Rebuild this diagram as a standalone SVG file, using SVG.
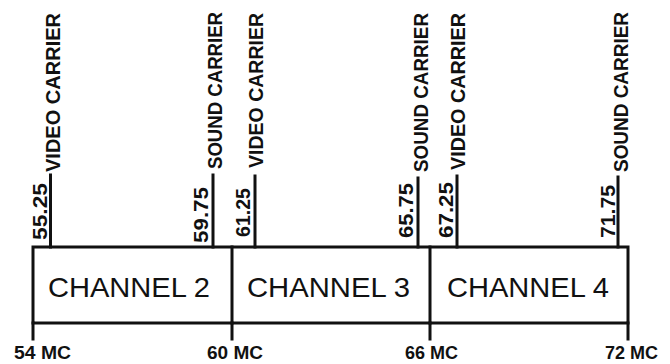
<svg xmlns="http://www.w3.org/2000/svg" width="670" height="364" viewBox="0 0 670 364">
<style>
.ln{stroke:#111;stroke-width:3;fill:none;stroke-linecap:square}
.car{font-family:"Liberation Sans",Arial,sans-serif;font-weight:bold;font-size:20px;fill:#111}
.ch{font-family:"Liberation Sans",Arial,sans-serif;font-size:28px;fill:#111}
.mc{font-family:"Liberation Sans",Arial,sans-serif;font-weight:bold;font-size:18px;fill:#111}
</style>
<rect width="670" height="364" fill="#fff"/>
<g id="connectors">
<path class="ln" d="M50.5,175V247M213,175V247M255,176V247M418,178V247M457,176V247M618,177V247"/>
<path class="ln" d="M33,323V339M232,323V339M430,323V339M628,323V339"/>
</g>
<g id="band">
<rect class="ln" x="33" y="247" width="595" height="76"/>
<path class="ln" d="M232,247V323M430,247V323"/>
</g>
<g id="channel2">
<text class="ch" x="48" y="297" textLength="162" lengthAdjust="spacingAndGlyphs">CHANNEL 2</text>
</g>
<g id="channel3">
<text class="ch" x="247" y="297" textLength="163" lengthAdjust="spacingAndGlyphs">CHANNEL 3</text>
</g>
<g id="channel4">
<text class="ch" x="447" y="297" textLength="162" lengthAdjust="spacingAndGlyphs">CHANNEL 4</text>
</g>
<g id="carrier-55">
<text class="car" transform="translate(47,240) rotate(-90)" textLength="57" lengthAdjust="spacingAndGlyphs">55.25</text>
<text class="car" transform="translate(60,172) rotate(-90)" textLength="159" lengthAdjust="spacingAndGlyphs">VIDEO CARRIER</text>
</g>
<g id="carrier-59">
<text class="car" transform="translate(208,243) rotate(-90)" textLength="56" lengthAdjust="spacingAndGlyphs">59.75</text>
<text class="car" transform="translate(222,169) rotate(-90)" textLength="157" lengthAdjust="spacingAndGlyphs">SOUND CARRIER</text>
</g>
<g id="carrier-61">
<text class="car" transform="translate(250,237) rotate(-90)" textLength="49" lengthAdjust="spacingAndGlyphs">61.25</text>
<text class="car" transform="translate(263,168) rotate(-90)" textLength="155" lengthAdjust="spacingAndGlyphs">VIDEO CARRIER</text>
</g>
<g id="carrier-65">
<text class="car" transform="translate(413,238) rotate(-90)" textLength="55" lengthAdjust="spacingAndGlyphs">65.75</text>
<text class="car" transform="translate(428,172) rotate(-90)" textLength="159" lengthAdjust="spacingAndGlyphs">SOUND CARRIER</text>
</g>
<g id="carrier-67">
<text class="car" transform="translate(453,238) rotate(-90)" textLength="56" lengthAdjust="spacingAndGlyphs">67.25</text>
<text class="car" transform="translate(465,170) rotate(-90)" textLength="157" lengthAdjust="spacingAndGlyphs">VIDEO CARRIER</text>
</g>
<g id="carrier-71">
<text class="car" transform="translate(615,238) rotate(-90)" textLength="53" lengthAdjust="spacingAndGlyphs">71.75</text>
<text class="car" transform="translate(628,172) rotate(-90)" textLength="160" lengthAdjust="spacingAndGlyphs">SOUND CARRIER</text>
</g>
<g id="freq-labels">
<text class="mc" x="14" y="359" textLength="57" lengthAdjust="spacingAndGlyphs">54 MC</text>
<text class="mc" x="207" y="359" textLength="56" lengthAdjust="spacingAndGlyphs">60 MC</text>
<text class="mc" x="405" y="359" textLength="53" lengthAdjust="spacingAndGlyphs">66 MC</text>
<text class="mc" x="605" y="359" textLength="53" lengthAdjust="spacingAndGlyphs">72 MC</text>
</g>
</svg>
